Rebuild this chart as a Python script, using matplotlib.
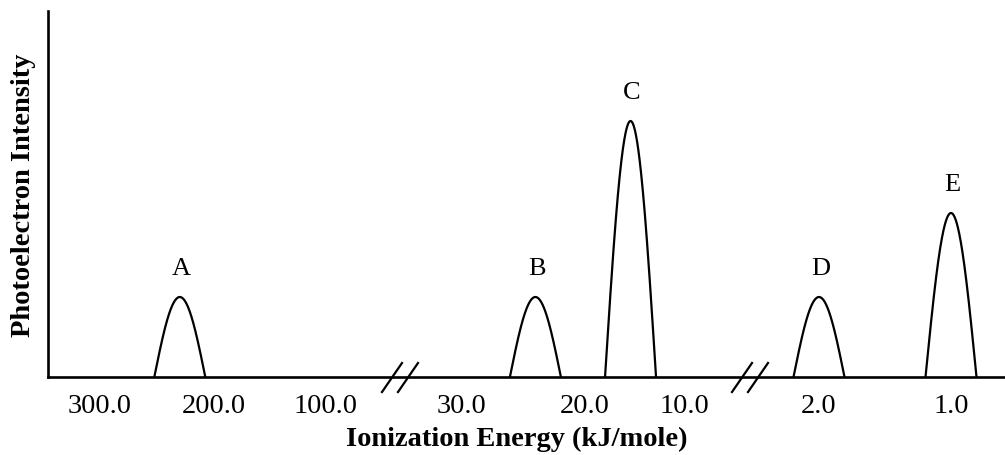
import numpy as np
import matplotlib
matplotlib.use("Agg")
from matplotlib import pyplot as plt

# data
peak_labels = ["A", "B", "C", "D", "E"]
peak_energy = [230.0, 24.0, 15.4, 2.0, 1.0]      # kJ/mole
peak_height = [1.0, 1.0, 3.2, 1.0, 2.05]         # relative intensity

tick_energy = [300.0, 200.0, 100.0, 30.0, 20.0, 10.0, 2.0, 1.0]
tick_labels = ["300.0", "200.0", "100.0", "30.0", "20.0", "10.0", "2.0", "1.0"]

# layout of the broken axis (pixel-ish positions along the x axis)
tick_pos = [100, 214, 326, 461, 585, 684, 819, 951]
AX_LEFT, AX_RIGHT = 48, 1005
AX_BOTTOM, AX_TOP = 377, 11
FIG_W, FIG_H = 1005, 455
HALF_WIDTH = 25.5
break_pos = [400, 750]

E_nodes = np.array([400.0] + tick_energy + [0.0])
P_nodes = np.array([-14.0] + tick_pos + [1083.0])


def pos_of(e):
    return np.interp(e, E_nodes[::-1], P_nodes[::-1])


def energy_of(p):
    return np.interp(p, P_nodes, E_nodes)


# scale must be increasing, so work with negative positions
def fwd(e):
    return -pos_of(e)


def inv(q):
    return energy_of(-np.asarray(q))


plt.rcParams["font.family"] = ["Liberation Serif", "DejaVu Serif"]

fig = plt.figure(figsize=(FIG_W / 100, FIG_H / 100), dpi=100)
ax_w = (AX_RIGHT - AX_LEFT) / FIG_W
ax_h = (AX_BOTTOM - AX_TOP) / FIG_H
ax = fig.add_axes([AX_LEFT / FIG_W, (FIG_H - AX_BOTTOM) / FIG_H, ax_w, ax_h])

ax.set_xscale("function", functions=(fwd, inv))
ax.set_xlim(energy_of(AX_LEFT), energy_of(AX_RIGHT))
ax.set_ylim(0, (AX_BOTTOM - AX_TOP) / 80.0)

u = np.linspace(-1, 1, 300)
for lab, e, h in zip(peak_labels, peak_energy, peak_height):
    pos = pos_of(e) + HALF_WIDTH * u
    ax.plot(energy_of(pos), h * np.cos(np.pi / 2 * u), color="black", lw=1.6,
            solid_capstyle="butt", clip_on=False)
    ax.annotate(lab, (e, h), xytext=(1, 20), textcoords="offset points",
                ha="center", va="center", fontsize=19)

for s in ["top", "right"]:
    ax.spines[s].set_visible(False)
for s in ["left", "bottom"]:
    ax.spines[s].set_linewidth(1.9)

ax.set_yticks([])
ax.set_xticks(tick_energy)
ax.set_xticklabels(tick_labels)
ax.xaxis.set_minor_locator(matplotlib.ticker.NullLocator())
ax.tick_params(axis="x", length=0, pad=12, labelsize=20.5)

# axis break marks
W = AX_RIGHT - AX_LEFT
H = AX_BOTTOM - AX_TOP
for b in break_pos:
    for off in (-8, 8):
        x0 = (b + off - 10 - AX_LEFT) / W
        x1 = (b + off + 10 - AX_LEFT) / W
        ax.plot([x0, x1], [-15 / H, 14 / H], transform=ax.transAxes,
                color="black", lw=1.6, clip_on=False)

ax.text((517 - AX_LEFT) / W, (AX_BOTTOM - 439) / H, "Ionization Energy (kJ/mole)",
        transform=ax.transAxes, ha="center", va="center",
        fontsize=20.5, fontweight="bold")
ax.text((24 - AX_LEFT) / W, (AX_BOTTOM - 195) / H, "Photoelectron Intensity",
        transform=ax.transAxes, ha="center", va="center", rotation=90,
        fontsize=20.5, fontweight="bold")

fig.savefig("out.png", dpi=100)
